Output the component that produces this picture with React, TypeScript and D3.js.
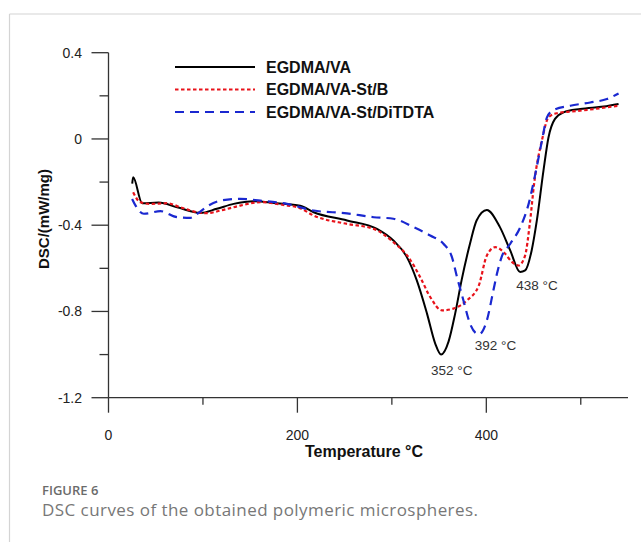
import React from "react";
import * as d3 from "d3";

// ---- data (temperature °C, DSC mW/mg) ----
const egdmaT = [25.1, 26.1, 35.6, 53.2, 72.7, 97.3, 114.7, 132.5, 153.7, 178, 203, 217.2, 252.5, 284.2, 301.6, 315.9, 326.4, 337.2, 345.9, 352.1, 360, 367, 373.8, 382.7, 389.7, 400.5, 414.4, 425.3, 435.8, 441.1, 448, 453.5, 460.5, 465.8, 472.7, 481.6, 499.4, 524.2, 540];
const egdmaV = [-0.207, -0.178, -0.298, -0.295, -0.317, -0.343, -0.324, -0.301, -0.289, -0.298, -0.31, -0.34, -0.378, -0.417, -0.471, -0.548, -0.656, -0.81, -0.949, -1.0, -0.94, -0.81, -0.656, -0.486, -0.378, -0.329, -0.409, -0.517, -0.617, -0.61, -0.517, -0.378, -0.147, 0.007, 0.093, 0.123, 0.139, 0.15, 0.162];

const stbT = [26.1, 33.6, 44.5, 62.1, 76.2, 94, 104.4, 118.7, 139.5, 160.8, 185, 202.7, 217.2, 252.5, 280.8, 301.6, 317.5, 330, 340.6, 353, 365, 379.4, 392, 400.6, 409.5, 418.4, 427.3, 434.2, 441.1, 446, 451, 458.8, 465.8, 474.7, 499.4, 540];
const stbV = [-0.247, -0.293, -0.301, -0.298, -0.317, -0.34, -0.344, -0.332, -0.309, -0.293, -0.306, -0.321, -0.355, -0.394, -0.417, -0.479, -0.548, -0.641, -0.733, -0.795, -0.787, -0.749, -0.68, -0.54, -0.502, -0.525, -0.571, -0.587, -0.54, -0.394, -0.193, -0.008, 0.1, 0.119, 0.131, 0.154];

const ditT = [25, 28.7, 37.4, 55, 72.7, 86.7, 94, 104.4, 118.5, 139.5, 160.8, 189, 217.2, 252.5, 280.8, 301.6, 322.9, 340.6, 354.6, 363.6, 369, 375.8, 382.7, 389.7, 392, 400.6, 407.5, 411, 416, 425.4, 436, 444.8, 451.9, 458.9, 464.2, 471.2, 488.9, 510, 527.7, 540];
const ditV = [-0.278, -0.309, -0.347, -0.335, -0.363, -0.366, -0.347, -0.313, -0.286, -0.278, -0.286, -0.301, -0.332, -0.345, -0.363, -0.37, -0.409, -0.448, -0.486, -0.548, -0.641, -0.749, -0.856, -0.903, -0.906, -0.841, -0.702, -0.63, -0.55, -0.486, -0.409, -0.301, -0.162, -0.008, 0.1, 0.134, 0.154, 0.169, 0.185, 0.211];

const seriesNames = ["EGDMA/VA", "EGDMA/VA-St/B", "EGDMA/VA-St/DiTDTA"];
const yMajor = [0.4, 0, -0.4, -0.8, -1.2];
const yMinor = [0.2, -0.2, -0.6, -1.0];
const xMajor = [0, 200, 400];
const xMinor = [100, 300, 500];
const peakT = [352, 392, 438];
const peakV = [-1.0, -0.906, -0.617];
const peakLabels = ["352 °C", "392 °C", "438 °C"];

const FONT = "'Liberation Sans', Arial, sans-serif";

export default function App() {
  const x = d3.scaleLinear().domain([0, 550]).range([108.5, 628]);
  const y = d3.scaleLinear().domain([-1.2, 0.4]).range([397.7, 52.7]);
  const line = d3
    .line<[number, number]>()
    .x((d) => x(d[0]))
    .y((d) => y(d[1]))
    .curve(d3.curveMonotoneX);

  const series = [
    { t: egdmaT, v: egdmaV, color: "#000000", dash: "none", w: 2 },
    { t: stbT, v: stbV, color: "#e8121a", dash: "3.5,2.5", w: 2.2 },
    { t: ditT, v: ditV, color: "#1a28d0", dash: "9,6", w: 2.2 },
  ];

  const axisColor = "#333";
  const x0 = x(0);
  const yb = y(-1.2);

  // label offsets relative to the peak (layout only)
  const labelOff = [
    { dx: -10, dy: 20 },
    { dx: -4, dy: 16 },
    { dx: -6, dy: 18 },
  ];

  return (
    <svg
      width={641}
      height={542}
      style={{ position: "absolute", left: 0, top: 0, background: "#fff" }}
    >
      {/* frame */}
      <line x1={9.5} y1={14} x2={641} y2={14} stroke="#d4d4d4" strokeWidth={1.2} />
      <line x1={9.5} y1={14} x2={9.5} y2={542} stroke="#d4d4d4" strokeWidth={1.2} />

      {/* y axis */}
      <line x1={x0} y1={y(0.4)} x2={x0} y2={yb} stroke={axisColor} strokeWidth={1.3} />
      {yMajor.map((v) => (
        <g key={"ym" + v}>
          <line x1={x0 - 17} x2={x0} y1={y(v)} y2={y(v)} stroke={axisColor} strokeWidth={1.3} />
          <text
            x={82}
            y={y(v) + 5}
            textAnchor="end"
            fontFamily={FONT}
            fontSize={14}
            fill="#222"
          >
            {v === 0 ? "0" : v.toFixed(1)}
          </text>
        </g>
      ))}
      {yMinor.map((v) => (
        <line key={"yn" + v} x1={x0 - 9} x2={x0} y1={y(v)} y2={y(v)} stroke={axisColor} strokeWidth={1.3} />
      ))}

      {/* x axis */}
      <line x1={x0} y1={yb} x2={x(550)} y2={yb} stroke={axisColor} strokeWidth={1.3} />
      {xMajor.map((t) => (
        <g key={"xm" + t}>
          <line x1={x(t)} x2={x(t)} y1={yb} y2={yb + 15} stroke={axisColor} strokeWidth={1.3} />
          <text x={x(t)} y={440} textAnchor="middle" fontFamily={FONT} fontSize={14} fill="#222">
            {t}
          </text>
        </g>
      ))}
      {xMinor.map((t) => (
        <line key={"xn" + t} x1={x(t)} x2={x(t)} y1={yb} y2={yb + 7} stroke={axisColor} strokeWidth={1.3} />
      ))}

      {/* axis titles */}
      <text x={364} y={457} textAnchor="middle" fontFamily={FONT} fontSize={16} fontWeight="bold" fill="#111">
        Temperature °C
      </text>
      <text
        transform={`translate(49,219) rotate(-90)`}
        textAnchor="middle"
        fontFamily={FONT}
        fontSize={15}
        fontWeight="bold"
        fill="#111"
      >
        DSC/(mW/mg)
      </text>

      {/* curves */}
      {series.map((s, i) => (
        <path
          key={"s" + i}
          d={line(s.t.map((t, j) => [t, s.v[j]] as [number, number])) || ""}
          fill="none"
          stroke={s.color}
          strokeWidth={s.w}
          strokeDasharray={s.dash}
          strokeLinejoin="round"
        />
      ))}

      {/* peak annotations */}
      {peakT.map((t, i) => (
        <text
          key={"p" + i}
          x={x(t) + labelOff[i].dx}
          y={y(peakV[i]) + labelOff[i].dy}
          fontFamily={FONT}
          fontSize={13.5}
          fill="#333"
        >
          {peakLabels[i]}
        </text>
      ))}

      {/* legend */}
      {series.map((s, i) => (
        <g key={"l" + i}>
          <line
            x1={175}
            x2={255}
            y1={67 + i * 22.5}
            y2={67 + i * 22.5}
            stroke={s.color}
            strokeWidth={s.w}
            strokeDasharray={s.dash}
          />
          <text x={266} y={72.5 + i * 22.5} fontFamily={FONT} fontSize={16} fontWeight="bold" fill="#111">
            {seriesNames[i]}
          </text>
        </g>
      ))}

      {/* caption */}
      <text x={42} y={495} fontFamily="'Open Sans', sans-serif" fontSize={13} fontWeight={600} fill="#6b6b6b">
        FIGURE 6
      </text>
      <text
        x={42}
        y={516}
        fontFamily="'Open Sans', sans-serif"
        fontSize={17}
        fill="#777"
        textLength={436}
        lengthAdjust="spacing"
      >
        DSC curves of the obtained polymeric microspheres.
      </text>
    </svg>
  );
}
